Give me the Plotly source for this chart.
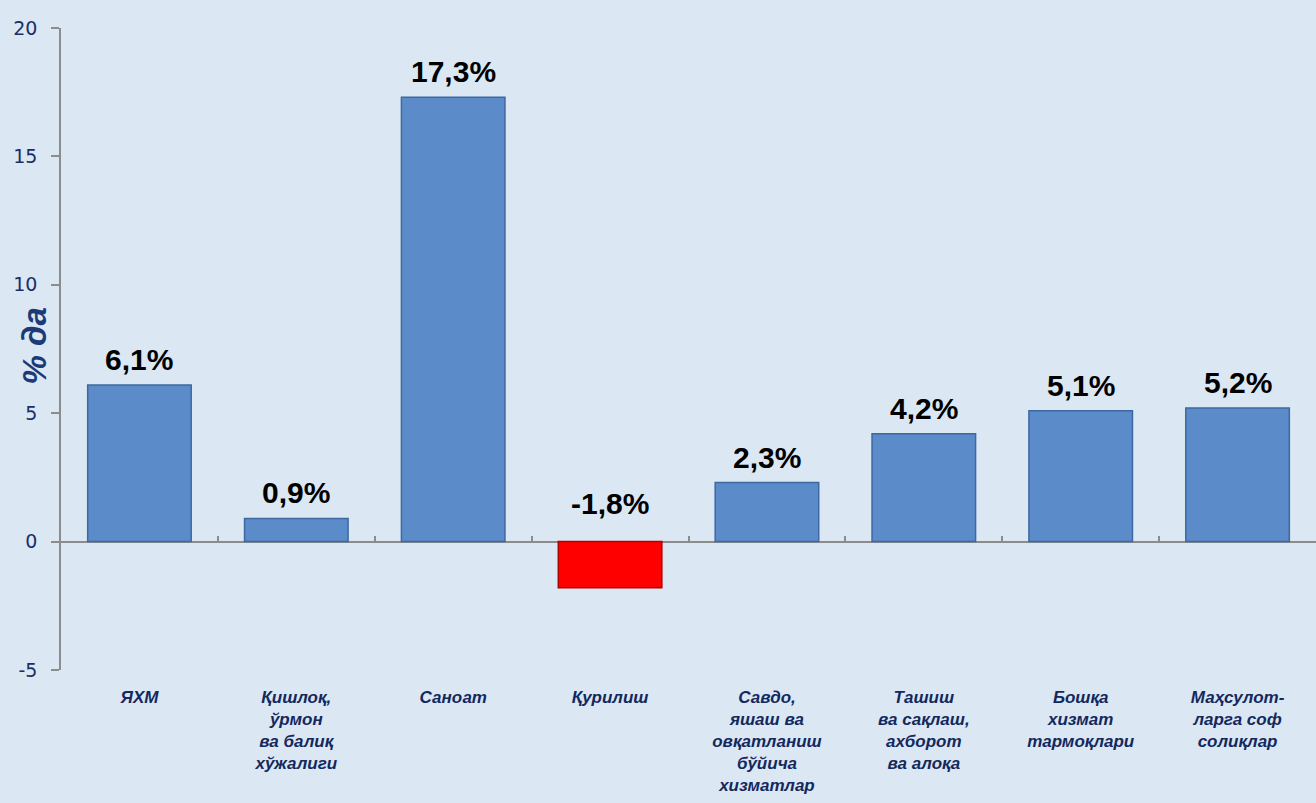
import plotly.graph_objects as go

categories = ["ЯХМ", "Қишлоқ,<br>ўрмон<br>ва балиқ<br>хўжалиги", "Саноат", "Қурилиш",
              "Савдо,<br>яшаш ва<br>овқатланиш<br>бўйича<br>хизматлар",
              "Ташиш<br>ва сақлаш,<br>ахборот<br>ва алоқа",
              "Бошқа<br>хизмат<br>тармоқлари", "Маҳсулот-<br>ларга соф<br>солиқлар"]
values = [6.1, 0.9, 17.3, -1.8, 2.3, 4.2, 5.1, 5.2]
y_ticks = [-5, 0, 5, 10, 15, 20]
y_ticktext = ["-5", "0", "5", "10", "15", "20"]
y_title = "% да"

fill = ["#ff0000" if v < 0 else "#5b8bc9" for v in values]
edge = ["#b00000" if v < 0 else "#3c69a3" for v in values]

fig = go.Figure()
fig.add_trace(go.Bar(x=categories, y=values, marker=dict(color=fill, line=dict(color=edge, width=1.5)),
                     width=0.66, hoverinfo="skip"))
# invisible trace to carry the boundary-tick axis on the zero line
fig.add_trace(go.Scatter(x=categories, y=[0]*len(categories), xaxis="x2", mode="markers",
                         marker=dict(opacity=0), hoverinfo="skip", showlegend=False))

for c, v in zip(categories, values):
    fig.add_annotation(x=c, y=max(v, 0), text="<b>" + f"{v:.1f}".replace(".", ",") + "%</b>",
                       showarrow=False, yanchor="bottom", yshift=7 if v >= 0 else 20,
                       font=dict(family="Liberation Sans, Arial", size=30, color="#000000"))

fig.add_annotation(xref="paper", yref="paper", x=-0.0215, y=0.504, xanchor="center", yanchor="middle",
                   text="<b><i>" + y_title + "</i></b>",
                   textangle=-90, showarrow=False,
                   font=dict(family="Liberation Sans, Arial", size=33, color="#1a3a78"))

fig.update_layout(
    width=1316, height=803,
    margin=dict(l=61, r=0, t=28, b=133),
    paper_bgcolor="#dbe7f3", plot_bgcolor="rgba(0,0,0,0)",
    showlegend=False,
    xaxis=dict(showline=False, ticks="", showgrid=False, zeroline=False, automargin=False,
               tickfont=dict(family="Liberation Sans, Arial", size=17, color="#13295e"),
               ticklabelstandoff=15, tickprefix="<b><i>", ticksuffix="</i></b>"),
    xaxis2=dict(overlaying="x", anchor="free", position=0.2, matches="x", showline=False,
                showticklabels=False, showgrid=False, ticks="inside", tickson="boundaries",
                ticklen=6, tickcolor="#8c8c8c", tickwidth=1.5, side="bottom", automargin=False),
    yaxis=dict(range=[-5, 20], tickvals=y_ticks, ticktext=y_ticktext, showgrid=False, zeroline=True,
               zerolinecolor="#8c8c8c", zerolinewidth=1.5, automargin=False,
               showline=True, linecolor="#8c8c8c", linewidth=1.5, ticks="outside", ticklen=8,
               tickcolor="#8c8c8c", tickwidth=1.5, ticklabelstandoff=10,
               tickfont=dict(family="DejaVu Sans", size=19, color="#1a2f66")),
)

fig.write_html("out.html", config={"displayModeBar": False},
               post_script="document.body.style.margin='0px';")
